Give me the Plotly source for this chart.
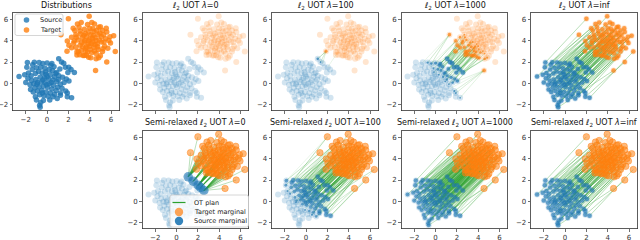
import numpy as np
import plotly.graph_objects as go

# ---------------- data ----------------
source_x = [-2.63, -1.85, -1.2, -0.75, -0.4, 0.0, 0.35, 0.65, 1.09, 1.56,
            1.72, 2.25, 2.56, 1.95, 2.03, 1.2, 0.9, 0.5, 0.2, -0.2,
            -0.6, -1.0, -1.4, -1.75, -1.5, -1.1, -0.8, -0.45, -0.1, 0.3,
            0.7, 1.1, 1.45, 1.8, 2.05, 1.6, 1.25, 0.9, 0.55, 0.15,
            -0.25, -0.65, -1.05, -1.45, -1.8, -2.0, -1.6, -1.25, -0.9, -0.55,
            -0.2, 0.2, 0.6, 1.0, 1.4, 1.75, 1.25, 0.85, 0.45, 0.05,
            -0.35, -0.75, -1.15, -1.55, -1.3, -0.9, -0.5, -0.1, 0.3, 0.7,
            0.55, 0.1, -0.3, -0.7, -1.1, -1.0, -0.7, -0.65, -0.35, 0.25,
            1.25, 1.9, 1.9, 2.3, -0.6, 0.0, -0.4, 0.4, -0.05, 0.8,
            -1.9, -2.1, -0.95, 1.05, -0.15, 0.45, -1.35, 1.35, -0.45, 0.95]
source_y = [0.62, 1.95, 1.97, 1.95, 1.85, 1.9, 1.7, 1.55, 2.3, 1.89,
            1.51, 1.29, 1.01, 1.0, 1.51, 1.35, 1.0, 1.2, 1.3, 1.4,
            1.5, 1.45, 1.3, 0.95, 0.7, 0.9, 1.1, 0.95, 0.85, 0.8,
            0.6, 0.7, 0.55, 0.4, 0.2, 0.05, -0.1, 0.15, 0.3, 0.4,
            0.5, 0.55, 0.35, 0.25, 0.45, 0.05, -0.15, -0.05, 0.05, 0.1,
            0.05, -0.05, -0.2, -0.4, -0.5, -0.75, -0.95, -0.7, -0.55, -0.4,
            -0.3, -0.35, -0.45, -0.6, -0.85, -0.75, -0.7, -0.85, -0.95, -1.05,
            -1.3, -1.25, -1.2, -1.1, -1.3, -1.6, -2.1, -2.3, -1.65, -1.6,
            -1.15, -0.95, -1.3, -1.4, -1.85, 0.6, 0.3, 0.05, -0.15, 0.9,
            1.5, 0.8, -0.1, 0.35, 1.05, 1.85, 1.75, 2.0, -0.95, -1.45]
target_x = [2.0, 3.95, 1.3, 1.87, 4.55, 5.6, 6.4, 6.25, 4.85, 2.85,
            3.5, 2.45, 3.2, 4.45, 5.2, 5.6, 5.9, 5.5, 5.95, 5.4,
            5.1, 4.8, 4.4, 4.0, 3.6, 3.1, 2.7, 2.3, 1.9, 2.5,
            2.9, 3.3, 3.7, 4.1, 4.5, 4.9, 5.3, 4.7, 4.3, 3.9,
            3.5, 3.1, 2.7, 2.3, 2.8, 2.8, 3.2, 3.6, 4.0, 4.4,
            4.8, 5.2, 5.0, 4.6, 4.2, 3.8, 3.37, 3.5, 3.9, 4.1,
            4.6, 3.85, 4.25, 3.45, 4.65, 5.0, 3.8, 3.0, 2.6, 4.2,
            5.55, 4.95, 3.25, 2.95, 3.7, 4.45, 5.35, 5.7, 4.05, 3.55,
            4.6, 2.05, 3.15, 4.35, 3.9, 5.1, 2.55, 3.35, 4.75, 4.15,
            3.7, 4.3, 2.75, 5.25, 3.05, 4.85, 5.8, 4.0, 3.6, 4.5]
target_y = [6.1, 6.35, 4.6, 3.02, 1.2, 2.0, 3.0, 4.5, 5.3, 5.6,
            5.1, 5.2, 5.75, 5.6, 5.0, 4.85, 4.4, 4.2, 3.8, 3.5,
            3.9, 4.6, 4.9, 5.2, 4.7, 4.95, 4.6, 4.35, 4.0, 3.8,
            4.1, 4.3, 4.4, 4.6, 4.3, 4.1, 4.6, 3.7, 3.9, 4.0,
            3.9, 3.6, 3.4, 3.35, 2.67, 2.95, 3.1, 3.3, 3.5, 3.4,
            3.2, 3.0, 2.6, 2.8, 2.9, 2.95, 2.61, 2.61, 2.45, 2.4,
            2.3, 3.7, 4.25, 4.55, 5.0, 5.35, 5.55, 5.3, 5.0, 5.75,
            5.2, 4.75, 3.85, 3.0, 2.65, 3.05, 3.9, 3.3, 3.2, 4.05,
            4.05, 3.6, 4.65, 4.55, 4.85, 4.4, 4.0, 3.45, 3.45, 3.75,
            3.45, 5.15, 4.35, 3.25, 2.7, 2.4, 4.05, 4.15, 3.05, 3.65]

dist_title = "Distributions"
uot_titles = ["<i>ℓ</i><sub>2</sub> UOT <i>λ</i>=0", "<i>ℓ</i><sub>2</sub> UOT <i>λ</i>=100",
              "<i>ℓ</i><sub>2</sub> UOT <i>λ</i>=1000", "<i>ℓ</i><sub>2</sub> UOT <i>λ</i>=inf"]
semi_titles = ["Semi-relaxed <i>ℓ</i><sub>2</sub> UOT <i>λ</i>=0",
               "Semi-relaxed <i>ℓ</i><sub>2</sub> UOT <i>λ</i>=100",
               "Semi-relaxed <i>ℓ</i><sub>2</sub> UOT <i>λ</i>=1000",
               "Semi-relaxed <i>ℓ</i><sub>2</sub> UOT <i>λ</i>=inf"]
lambda_values = [0.0, 100.0, 1000.0, np.inf]
semi_penalty_scale = 10.0   # marginal penalty normalisation used by the semi-relaxed solver
axis_ticks = [-2, 0, 2, 4, 6]
legend1_labels = ["Source", "Target"]
legend2_labels = ["OT plan", "Target marginal", "Source marginal"]

BLUE = "#1f77b4"
ORANGE = "#ff7f0e"
FONT = "DejaVu Sans"

# ---------------- transport plans ----------------
S = np.column_stack([source_x, source_y])
T = np.column_stack([target_x, target_y])
M = ((S[:, None, :] - T[None, :, :]) ** 2).sum(-1)
n, m = M.shape
a = np.full(n, 1.0 / n)
b = np.full(m, 1.0 / m)


def emd_assignment(C):
    N = len(C)
    INF = float("inf")
    u = [0.0] * (N + 1); v = [0.0] * (N + 1)
    p = [0] * (N + 1); way = [0] * (N + 1)
    for i in range(1, N + 1):
        p[0] = i; j0 = 0
        minv = [INF] * (N + 1); used = [False] * (N + 1)
        while True:
            used[j0] = True
            i0 = p[j0]; delta = INF; j1 = 0
            row = C[i0 - 1]; ui0 = u[i0]
            for j in range(1, N + 1):
                if not used[j]:
                    cur = row[j - 1] - ui0 - v[j]
                    if cur < minv[j]:
                        minv[j] = cur; way[j] = j0
                    if minv[j] < delta:
                        delta = minv[j]; j1 = j
            for j in range(N + 1):
                if used[j]:
                    u[p[j]] += delta; v[j] -= delta
                else:
                    minv[j] -= delta
            j0 = j1
            if p[j0] == 0:
                break
        while True:
            j1 = way[j0]; p[j0] = p[j1]; j0 = j1
            if j0 == 0:
                break
    res = [0] * N
    for j in range(1, N + 1):
        res[p[j] - 1] = j - 1
    return res


def emd_plan():
    perm = emd_assignment(M.tolist())
    G = np.zeros((n, m))
    G[np.arange(n), perm] = a
    return G


def mm_l2(lam, iters=1000):
    if lam == 0:
        return np.zeros((n, m))
    K = np.maximum(lam * a[:, None] + lam * b[None, :] - M, 0)
    G = np.outer(a, b)
    for _ in range(iters):
        Gd = lam * G.sum(1, keepdims=True) + lam * G.sum(0, keepdims=True) + 1e-16
        G = K * G / Gd
    return G


def semi_relaxed_l2(lam, iters=15000):
    if lam == 0:
        G = np.zeros((n, m))
        G[np.argmin(M, axis=0), np.arange(m)] = b
        return G
    lam = lam * semi_penalty_scale
    eta = 0.4 / (1.0 + 0.05 * lam)
    G = np.outer(a, b)
    for _ in range(iters):
        r = G.sum(1)
        grad = M + lam * (r - a)[:, None]
        grad = grad - grad.min(0, keepdims=True)
        G = G * np.exp(-eta * grad)
        G = G / G.sum(0, keepdims=True) * b[None, :]
    return G


G_emd = emd_plan()
uot_plans = [mm_l2(l) if np.isfinite(l) else G_emd for l in lambda_values]
semi_plans = [semi_relaxed_l2(l) if np.isfinite(l) else G_emd for l in lambda_values]

# ---------------- layout geometry ----------------
W, H = 640, 240
COL_LEFT = [13, 142.5, 272, 401.5, 531]
AX_W = 106
ROW_TOP = [12.5, 130.5]
AX_H = 98
XR = [-3.2, 6.75]
YR = [-2.6, 6.7]


def px(x):
    return x / W


def py(y):
    return 1 - y / H


fig = go.Figure()
layout = dict(width=W, height=H, margin=dict(l=0, r=0, t=0, b=0),
              paper_bgcolor="white", plot_bgcolor="white", showlegend=False,
              font=dict(family=FONT, size=7, color="#222"))
annotations = []
shapes = []

axis_style = dict(showline=True, mirror=True, linecolor="#333", linewidth=0.8,
                  ticks="outside", ticklen=2.5, tickwidth=0.7, tickcolor="#333",
                  showgrid=False, zeroline=False, tickvals=axis_ticks,
                  tickfont=dict(family=FONT, size=7, color="#333"), automargin=False)


def axis_names(k):
    return ("x" if k == 1 else f"x{k}", "y" if k == 1 else f"y{k}")


def add_axes(k, col, row, show_xlabels, title):
    left = COL_LEFT[col]; top = ROW_TOP[row]
    sfx = "" if k == 1 else str(k)
    layout["xaxis" + sfx] = dict(axis_style, domain=[px(left), px(left + AX_W)], range=XR,
                                 anchor="y" + sfx, showticklabels=show_xlabels)
    layout["yaxis" + sfx] = dict(axis_style, domain=[py(top + AX_H), py(top)], range=YR,
                                 anchor="x" + sfx, showticklabels=True)
    annotations.append(dict(text=title, xref="paper", yref="paper", x=px(left + AX_W / 2),
                            y=py(top - 7), xanchor="center", yanchor="middle", showarrow=False,
                            font=dict(family=FONT, size=8, color="#111")))


def sc(k, x, y, **kw):
    xa, ya = axis_names(k)
    fig.add_trace(go.Scatter(x=x, y=y, xaxis=xa, yaxis=ya, hoverinfo="skip",
                             showlegend=False, **kw))


def diam(mass, cap):
    return np.clip(4.5 * np.sqrt(mass / 0.01), 0, cap)


def draw_panel(k, G, semi, src_cap):
    sc(k, source_x, source_y, mode="markers",
       marker=dict(size=6, color="rgba(31,119,180,0.2)", line=dict(width=0)))
    if not semi:
        sc(k, target_x, target_y, mode="markers",
           marker=dict(size=6, color="rgba(255,127,14,0.2)", line=dict(width=0)))
    gmax = G.max()
    if gmax > 0:
        ii, jj = np.nonzero(G > 0.01 * gmax)
        alphas = 0.36 * np.sqrt(G[ii, jj] / gmax)
        keep = alphas >= 0.03
        ii, jj, alphas = ii[keep], jj[keep], alphas[keep]
        levels = np.clip(np.round(alphas / 0.04) * 0.04, 0.04, 0.36)
        for lev in np.unique(levels):
            idx = np.where(levels == lev)[0]
            nch = min(6, len(idx))
            for c in range(nch):
                xs, ys = [], []
                for s in idx[c::nch]:
                    xs += [source_x[ii[s]], target_x[jj[s]], None]
                    ys += [source_y[ii[s]], target_y[jj[s]], None]
                sc(k, xs, ys, mode="lines",
                   line=dict(color=f"rgba(44,160,44,{lev:.2f})", width=0.9))
    r = G.sum(1)
    c = G.sum(0)
    if semi:
        sc(k, target_x, target_y, mode="markers",
           marker=dict(size=6.5, color="rgba(255,127,14,0.55)",
                       line=dict(width=0.7, color="rgba(255,127,14,0.6)")))
    else:
        d = diam(c, 5)
        sel = np.where(d >= 1.5)[0]
        if len(sel):
            sc(k, [target_x[j] for j in sel], [target_y[j] for j in sel], mode="markers",
               marker=dict(size=d[sel].tolist(), color=ORANGE, line=dict(width=0)))
    d = diam(r, src_cap)
    sel = np.where(d >= 1.5)[0]
    if len(sel):
        sc(k, [source_x[i] for i in sel], [source_y[i] for i in sel], mode="markers",
           marker=dict(size=d[sel].tolist(), color=BLUE if not semi else "rgba(31,119,180,0.9)",
                       line=dict(width=0)))


# Distributions panel
add_axes(1, 0, 0, True, dist_title)
sc(1, source_x, source_y, mode="markers", marker=dict(size=5.5, color="rgba(31,119,180,0.8)", line=dict(width=0)))
sc(1, target_x, target_y, mode="markers", marker=dict(size=5.5, color="rgba(255,127,14,0.8)", line=dict(width=0)))

for q in range(4):
    k = 2 + q
    add_axes(k, q + 1, 0, False, uot_titles[q])
    draw_panel(k, uot_plans[q], False, 5)
for q in range(4):
    k = 6 + q
    add_axes(k, q + 1, 1, True, semi_titles[q])
    draw_panel(k, semi_plans[q], True, 9.5 if lambda_values[q] == 0 else 4.5)


# ---------------- legends (drawn manually) ----------------
def rounded_box(x0, y0, x1, y1, r=2.0):
    X0, X1 = px(x0), px(x1); Y0, Y1 = py(y0), py(y1)
    rx, ry = r / W, r / H
    path = (f"M{X0 + rx},{Y0} L{X1 - rx},{Y0} Q{X1},{Y0} {X1},{Y0 - ry} "
            f"L{X1},{Y1 + ry} Q{X1},{Y1} {X1 - rx},{Y1} L{X0 + rx},{Y1} "
            f"Q{X0},{Y1} {X0},{Y1 + ry} L{X0},{Y0 - ry} Q{X0},{Y0} {X0 + rx},{Y0} Z")
    shapes.append(dict(type="path", path=path, xref="paper", yref="paper",
                       fillcolor="rgba(255,255,255,0.8)", line=dict(color="#cccccc", width=0.8)))


def circle(cx, cy, rad, color):
    shapes.append(dict(type="circle", xref="paper", yref="paper",
                       x0=px(cx - rad), x1=px(cx + rad), y0=py(cy + rad), y1=py(cy - rad),
                       fillcolor=color, line=dict(width=0)))


def label(text, x, y):
    annotations.append(dict(text=text, xref="paper", yref="paper", x=px(x), y=py(y),
                            xanchor="left", yanchor="middle", showarrow=False,
                            font=dict(family=FONT, size=6.5, color="#222")))


rounded_box(15, 14, 63, 35.5)
circle(26.5, 20, 2.8, "rgba(31,119,180,0.8)")
label(legend1_labels[0], 38, 20)
circle(26.5, 30, 2.8, "rgba(255,127,14,0.8)")
label(legend1_labels[1], 38, 30)

rounded_box(170, 195, 248.5, 227)
shapes.append(dict(type="line", xref="paper", yref="paper", x0=px(172.5), x1=px(185.5),
                   y0=py(202.5), y1=py(202.5), line=dict(color="#2ca02c", width=1.2)))
label(legend2_labels[0], 191.5, 202.5)
circle(179, 212, 4.2, "rgba(255,127,14,0.7)")
label(legend2_labels[1], 191.5, 212)
circle(179, 221, 4.2, "rgba(31,119,180,0.9)")
label(legend2_labels[2], 191.5, 221)

layout["annotations"] = annotations
layout["shapes"] = shapes
fig.update_layout(**layout)
fig.write_html("out.html", config={"displayModeBar": False, "staticPlot": True},
               post_script="document.body.style.margin='0';document.body.style.overflow='hidden';")
